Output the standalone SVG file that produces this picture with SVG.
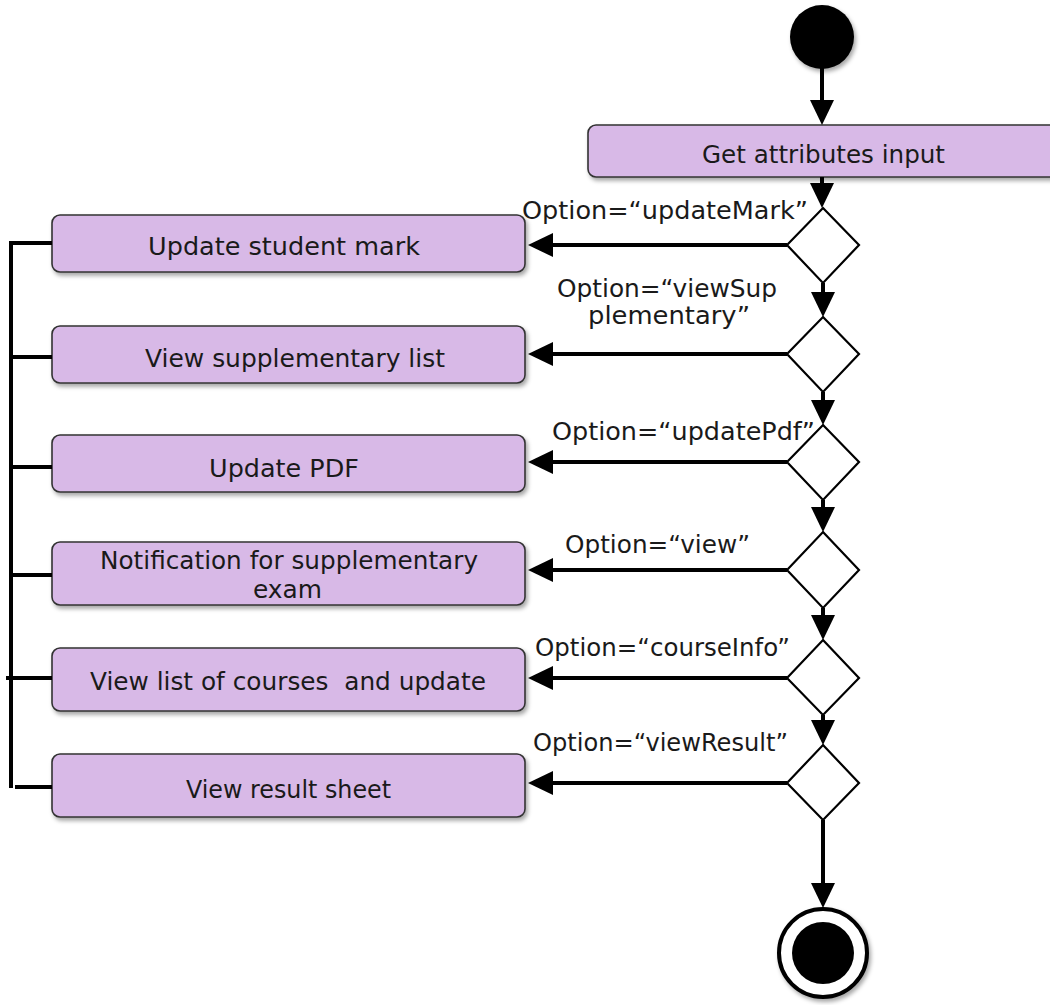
<svg xmlns="http://www.w3.org/2000/svg" width="1050" height="1005" viewBox="0 0 1050 1005">
<style>
.box{fill:#D8B9E7;stroke:#333;stroke-width:1.6;filter:url(#sh)}
.bt{font-family:"DejaVu Sans","Liberation Sans",sans-serif;font-size:25px;fill:#1a1a1a;white-space:pre}
.lbl{font-family:"DejaVu Sans","Liberation Sans",sans-serif;font-size:25px;fill:#1a1a1a}
.dia{fill:#fff;stroke:#000;stroke-width:2.2}
.c{stroke:#000;stroke-width:4;fill:none}
</style>
<defs>
<filter id="sh" x="-10%" y="-20%" width="130%" height="160%">
<feDropShadow dx="2" dy="3" stdDeviation="2" flood-color="#000" flood-opacity="0.35"/>
</filter>
<marker id="ah" markerUnits="userSpaceOnUse" markerWidth="26" markerHeight="26" refX="0" refY="12" orient="auto">
<path d="M0,0 L25,12 L0,24 z" fill="#000"/>
</marker>
</defs>
<rect width="1050" height="1005" fill="#fff"/>

<g id="start"><circle cx="822" cy="37" r="32" fill="#000" filter="url(#sh)"/></g>

<g id="getAttributes">
<rect class="box" x="588" y="125" width="480" height="52" rx="8"/>
<text class="bt" x="702" y="163" textLength="243" lengthAdjust="spacingAndGlyphs">Get attributes input</text>
</g>

<g id="d1"><polygon class="dia" points="823,208 859,245 823,283 787,245"/></g>
<g id="d2"><polygon class="dia" points="823,317 859,354 823,392 787,354"/></g>
<g id="d3"><polygon class="dia" points="823,425 859,462 823,500 787,462"/></g>
<g id="d4"><polygon class="dia" points="823,532 859,570 823,608 787,570"/></g>
<g id="d5"><polygon class="dia" points="823,640 859,678 823,715 787,678"/></g>
<g id="d6"><polygon class="dia" points="823,745 859,783 823,820 787,783"/></g>

<g id="box1">
<rect class="box" x="52" y="215" width="473" height="57" rx="8"/>
<text class="bt" x="148" y="255" textLength="272" lengthAdjust="spacingAndGlyphs">Update student mark</text>
</g>
<g id="box2">
<rect class="box" x="52" y="326" width="473" height="57" rx="8"/>
<text class="bt" x="145" y="367" textLength="300" lengthAdjust="spacingAndGlyphs">View supplementary list</text>
</g>
<g id="box3">
<rect class="box" x="52" y="435" width="473" height="57" rx="8"/>
<text class="bt" x="209" y="477" textLength="150" lengthAdjust="spacingAndGlyphs">Update PDF</text>
</g>
<g id="box4">
<rect class="box" x="52" y="542" width="473" height="63" rx="8"/>
<text class="bt" x="100" y="569" textLength="378" lengthAdjust="spacingAndGlyphs">Notification for supplementary</text>
<text class="bt" x="253" y="598" textLength="69" lengthAdjust="spacingAndGlyphs">exam</text>
</g>
<g id="box5">
<rect class="box" x="52" y="648" width="473" height="63" rx="8"/>
<text class="bt" x="90" y="690" textLength="396" lengthAdjust="spacingAndGlyphs" xml:space="preserve">View list of courses  and update</text>
</g>
<g id="box6">
<rect class="box" x="52" y="754" width="473" height="63" rx="8"/>
<text class="bt" x="186" y="798" textLength="205" lengthAdjust="spacingAndGlyphs">View result sheet</text>
</g>

<g id="end">
<circle cx="823" cy="953" r="44" fill="#fff" stroke="#000" stroke-width="4" filter="url(#sh)"/>
<circle cx="823" cy="953" r="31" fill="#000"/>
</g>

<g id="connectors">
<line class="c" x1="822" y1="68" x2="822" y2="100" marker-end="url(#ah)"/>
<line class="c" x1="822" y1="177" x2="822" y2="183" marker-end="url(#ah)"/>
<line class="c" x1="823" y1="283" x2="823" y2="292" marker-end="url(#ah)"/>
<line class="c" x1="823" y1="392" x2="823" y2="400" marker-end="url(#ah)"/>
<line class="c" x1="823" y1="500" x2="823" y2="507" marker-end="url(#ah)"/>
<line class="c" x1="823" y1="608" x2="823" y2="615" marker-end="url(#ah)"/>
<line class="c" x1="823" y1="715" x2="823" y2="720" marker-end="url(#ah)"/>
<line class="c" x1="823" y1="820" x2="823" y2="883" marker-end="url(#ah)"/>

<line class="c" x1="787" y1="245" x2="553" y2="245" marker-end="url(#ah)"/>
<line class="c" x1="787" y1="354" x2="553" y2="354" marker-end="url(#ah)"/>
<line class="c" x1="787" y1="462" x2="553" y2="462" marker-end="url(#ah)"/>
<line class="c" x1="787" y1="570" x2="553" y2="570" marker-end="url(#ah)"/>
<line class="c" x1="787" y1="678" x2="553" y2="678" marker-end="url(#ah)"/>
<line class="c" x1="787" y1="783" x2="553" y2="783" marker-end="url(#ah)"/>

<line class="c" x1="11" y1="241" x2="11" y2="788"/>
<line class="c" x1="9" y1="243" x2="52" y2="243"/>
<line class="c" x1="9" y1="357" x2="52" y2="357"/>
<line class="c" x1="9" y1="467" x2="52" y2="467"/>
<line class="c" x1="9" y1="575" x2="52" y2="575"/>
<line class="c" x1="6" y1="678" x2="52" y2="678"/>
<line class="c" x1="15" y1="787" x2="52" y2="787"/>

<text class="lbl" x="522" y="219" textLength="286" lengthAdjust="spacingAndGlyphs">Option=“updateMark”</text>
<text class="lbl" x="557" y="297" textLength="220" lengthAdjust="spacingAndGlyphs">Option=“viewSup</text>
<text class="lbl" x="588" y="324" textLength="162" lengthAdjust="spacingAndGlyphs">plementary”</text>
<text class="lbl" x="552" y="440" textLength="263" lengthAdjust="spacingAndGlyphs">Option=“updatePdf”</text>
<text class="lbl" x="565" y="553" textLength="185" lengthAdjust="spacingAndGlyphs">Option=“view”</text>
<text class="lbl" x="535" y="656" textLength="255" lengthAdjust="spacingAndGlyphs">Option=“courseInfo”</text>
<text class="lbl" x="533" y="751" textLength="255" lengthAdjust="spacingAndGlyphs">Option=“viewResult”</text>
</g>
</svg>
